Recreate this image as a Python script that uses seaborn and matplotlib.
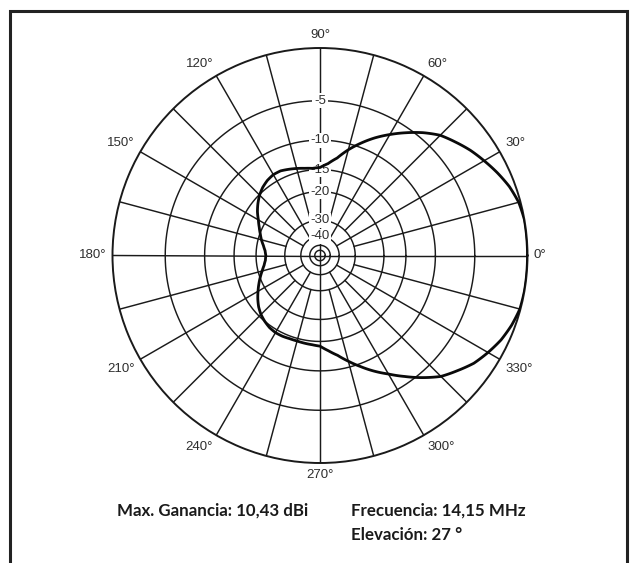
import numpy as np
import matplotlib
matplotlib.use("Agg")
import matplotlib.pyplot as plt
from matplotlib.patches import Rectangle
import seaborn as sns

# Azimuth pattern, relative gain (dB below maximum), every 5 degrees
azimuth_deg = list(range(0, 365, 5))
rel_gain_db = [0.0, 0.0, 0.0, -0.15, -0.5, -1.0, -1.55, -2.1, -2.75, -3.4,
               -4.4, -5.55, -6.75, -8.0, -9.4, -10.9, -12.6, -13.8, -14.6,
               -14.7, -14.5, -14.2, -13.9, -13.6, -13.6, -13.9, -14.4, -15.1,
               -16.0, -17.0, -18.2, -19.2, -20.1, -20.9, -21.8, -22.5, -22.8,
               -22.6, -22.0, -21.1, -20.1, -19.1, -18.1, -17.1, -16.2, -15.5,
               -15.0, -14.6, -14.4, -14.4, -14.5, -14.5, -14.4, -14.3, -14.1,
               -13.2, -12.2, -10.9, -9.6, -8.3, -7.1, -5.8, -4.5, -3.3, -2.5,
               -1.7, -1.15, -0.65, -0.3, -0.05, 0.0, 0.0, 0.0]

# Grid rings and their labels
ring_levels = [-5, -10, -15, -20, -30, -40, -50, -60]
ring_labels = ["-5", "-10", "-15", "-20", "-30", "-40"]
angle_ticks = [0, 30, 60, 90, 120, 150, 180, 210, 240, 270, 300, 330]

info_gain = "Max. Ganancia: 10,43 dBi"
info_freq = "Frecuencia: 14,15 MHz"
info_elev = "Elevación: 27 °"

sns.set_style("white")
plt.rcParams["font.family"] = ["Liberation Sans", "DejaVu Sans"]

INK = "#1a1a1a"
LABEL = "#2e2e2e"
R_MIN = -90.0


# ARRL log-periodic radial scale: each 2 dB step shrinks the radius by 0.89
def arrl_fwd(db):
    db = np.asarray(db, dtype=float)
    return np.power(0.89, -db / 2.0)


def arrl_inv(r):
    r = np.clip(np.asarray(r, dtype=float), 1e-12, None)
    return -2.0 * np.log(r) / np.log(0.89)


fig = plt.figure(figsize=(6.32, 5.63), dpi=100)
fig.patch.set_facecolor("white")

W, H = 632.0, 563.0
cx, cy, rad = 320.0, 255.5, 207.5
ax = fig.add_axes([(cx - rad) / W, (H - cy - rad) / H, 2 * rad / W, 2 * rad / H],
                  projection="polar")
ax.set_facecolor("white")

theta = np.deg2rad(azimuth_deg)
sns.lineplot(x=theta, y=rel_gain_db, ax=ax, sort=False, color="#0a0a0a",
             linewidth=2.0, zorder=5)
# follow the polar geometry between samples instead of straight chords
pattern_line = ax.lines[-1]
pattern_line.get_path()._interpolation_steps = 16
pattern_line.set_solid_joinstyle("round")

ax.set_rscale("function", functions=(arrl_fwd, arrl_inv))
ax.set_rlim(R_MIN, 0)
ax.set_xticks([])
ax.set_yticks([])
ax.grid(False)
ax.spines["polar"].set_color(INK)
ax.spines["polar"].set_linewidth(1.4)
ax.set_xlabel("")
ax.set_ylabel("")

# Concentric rings
full = np.linspace(0, 2 * np.pi, 721)
for lvl in ring_levels:
    ax.plot(full, np.full_like(full, lvl), color=INK, lw=1.05, zorder=2)

# Radial spokes: 15 deg outside the -30 ring, 30 deg inside it, axes to centre
for a in range(0, 360, 15):
    if a % 90 == 0:
        r0 = R_MIN
    elif a % 30 == 0:
        r0 = -40
    else:
        r0 = -30
    t = np.deg2rad(a)
    ax.plot([t, t], [r0, 0], color=INK, lw=1.05, zorder=2)

# Ring labels along the 90 deg spoke
for lab, lvl in zip(ring_labels, ring_levels):
    ax.text(np.pi / 2, lvl, lab, ha="center", va="center", fontsize=9.5,
            color=LABEL, zorder=4,
            bbox=dict(boxstyle="square,pad=0.12", fc="white", ec="none"))

# Azimuth labels outside the rim
gap = 6.5 / (2 * rad)
for a in angle_ticks:
    t = np.deg2rad(a)
    c, s = np.cos(t), np.sin(t)
    ha = "left" if c > 0.1 else ("right" if c < -0.1 else "center")
    va = "bottom" if s > 0.1 else ("top" if s < -0.1 else "center")
    ax.text(0.5 + (0.5 + gap) * c, 0.5 + (0.5 + gap) * s, f"{a}°",
            transform=ax.transAxes, ha=ha, va=va, fontsize=9.5, color=LABEL)

# Summary text below the chart
txt_kw = dict(fontsize=12.2, fontweight="bold", color="#1a1a1a",
              family=["Lato", "DejaVu Sans"], va="baseline")
fig.text(117 / W, 1 - 516 / H, info_gain, ha="left", **txt_kw)
fig.text(351 / W, 1 - 516 / H, info_freq, ha="left", **txt_kw)
fig.text(351 / W, 1 - 540.5 / H, info_elev, ha="left", **txt_kw)

# Frame around the figure (open at the bottom edge)
fig.patches.append(Rectangle((10.5 / W, -0.05), 616 / W, 1.05 - 10.5 / H,
                             transform=fig.transFigure, fill=False,
                             ec="#222222", lw=2.2))

fig.savefig("out.png", dpi=100, facecolor="white")
